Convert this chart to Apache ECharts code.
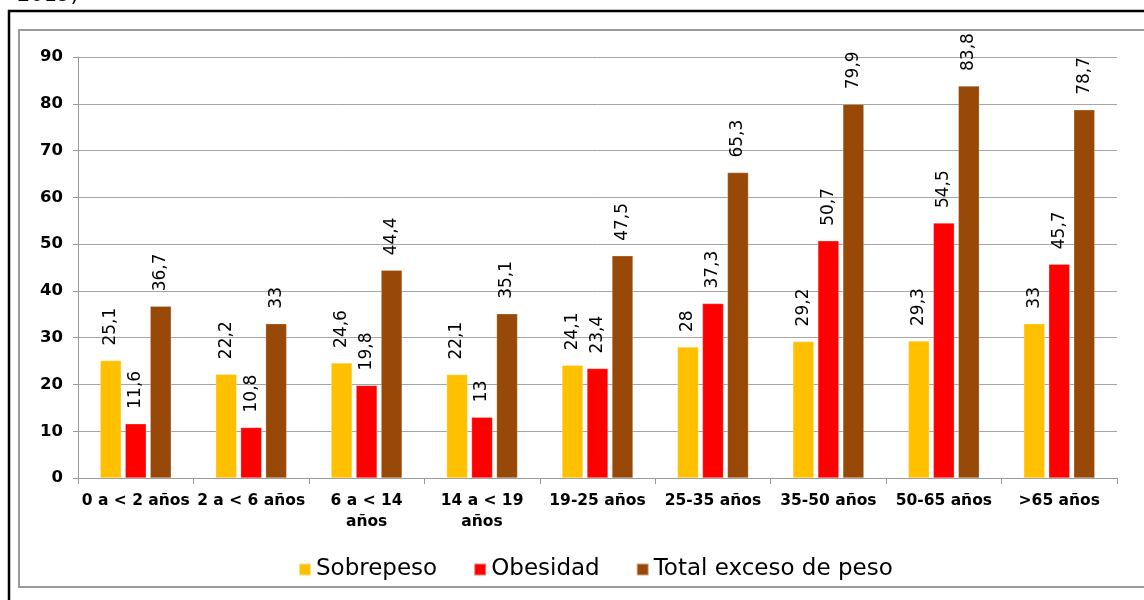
<!DOCTYPE html>
<html>
<head>
<meta charset="utf-8">
<script src="https://cdn.jsdelivr.net/npm/echarts@6/dist/echarts.min.js"></script>
<style>
  html, body { margin: 0; padding: 0; background: #fff; }
  #chart { width: 1144px; height: 600px; }
</style>
</head>
<body>
<div id="chart"></div>
<script>
// Age groups along the x axis
const categories = ['0 a < 2 años', '2 a < 6 años', '6 a < 14\naños', '14 a < 19\naños',
  '19-25 años', '25-35 años', '35-50 años', '50-65 años', '>65 años'];

// Prevalence (%) per age group
const sobrepeso = [25.1, 22.2, 24.6, 22.1, 24.1, 28, 29.2, 29.3, 33];
const obesidad = [11.6, 10.8, 19.8, 13, 23.4, 37.3, 50.7, 54.5, 45.7];
const totalExceso = [36.7, 33, 44.4, 35.1, 47.5, 65.3, 79.9, 83.8, 78.7];

const seriesNames = ['Sobrepeso', 'Obesidad', 'Total exceso de peso'];
const seriesColors = ['#FFC000', '#FF0000', '#984807'];

const FONT = '"DejaVu Sans", Verdana, sans-serif';

const chart = echarts.init(document.getElementById('chart'), null, { renderer: 'canvas' });

function barSeries(name, data, color) {
  return {
    name: name,
    type: 'bar',
    data: data,
    barWidth: 21,
    barGap: '19%',
    itemStyle: { color: color, borderColor: 'rgba(255,255,255,0.5)', borderWidth: 0.5 },
    label: {
      show: true,
      position: 'top',
      rotate: 90,
      align: 'left',
      verticalAlign: 'middle',
      distance: 15,
      fontFamily: FONT,
      fontSize: 17,
      color: '#000',
      formatter: p => String(p.value).replace('.', ',')
    }
  };
}

chart.setOption({
  animation: false,
  backgroundColor: '#fff',
  graphic: [
    { type: 'text', left: 17, top: -15, style: { text: '2019)', fontFamily: FONT, fontSize: 21, fill: '#000' } },
    { type: 'rect', shape: { x: 9, y: 11, width: 1300, height: 800 }, style: { fill: null, stroke: '#000', lineWidth: 2.5 } },
    { type: 'rect', shape: { x: 19, y: 30, width: 1300, height: 557 }, style: { fill: null, stroke: '#9a9a9a', lineWidth: 2 } }
  ],
  grid: { left: 78, right: 27, top: 57, bottom: 122, containLabel: false },
  legend: {
    data: seriesNames,
    top: 553,
    left: 293,
    itemWidth: 12,
    itemHeight: 12,
    itemGap: 36,
    icon: 'rect',
    textStyle: { fontFamily: FONT, fontSize: 23, color: '#000' }
  },
  xAxis: {
    type: 'category',
    data: categories,
    axisLine: { lineStyle: { color: '#999', width: 1 } },
    axisTick: { show: true, length: 6, lineStyle: { color: '#999' } },
    axisLabel: {
      interval: 0,
      margin: 12,
      fontFamily: FONT,
      fontSize: 15.5,
      fontWeight: 'bold',
      color: '#000',
      lineHeight: 21
    }
  },
  yAxis: {
    type: 'value',
    min: 0,
    max: 90,
    interval: 10,
    axisLine: { show: true, lineStyle: { color: '#999', width: 1 } },
    axisTick: { show: true, length: 5, lineStyle: { color: '#999' } },
    splitLine: { lineStyle: { color: '#a6a6a6', width: 1 } },
    axisLabel: {
      margin: 15,
      fontFamily: FONT,
      fontSize: 16.5,
      fontWeight: 'bold',
      color: '#000'
    }
  },
  series: [
    barSeries(seriesNames[0], sobrepeso, seriesColors[0]),
    barSeries(seriesNames[1], obesidad, seriesColors[1]),
    barSeries(seriesNames[2], totalExceso, seriesColors[2])
  ]
});
</script>
</body>
</html>
